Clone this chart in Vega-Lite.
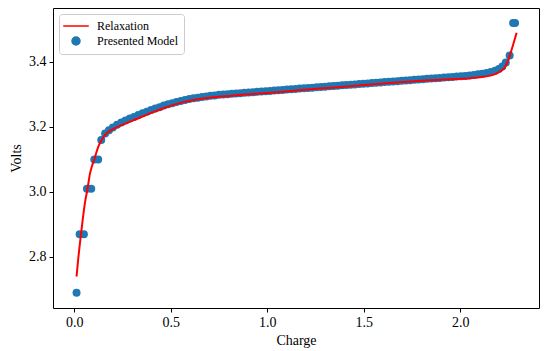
{
  "$schema": "https://vega.github.io/schema/vega-lite/v6.json",
  "width": 486,
  "height": 300,
  "autosize": "none",
  "padding": {"left": 53, "top": 8, "right": 11, "bottom": 43},
  "background": "white",
  "config": {
    "font": "Liberation Serif",
    "view": {"stroke": "black", "strokeWidth": 1},
    "axis": {
      "domain": false, "grid": false, "ticks": true, "tickColor": "black", "tickSize": 4, "tickWidth": 1,
      "labelFont": "Liberation Serif", "labelFontSize": 14, "labelColor": "black", "labelPadding": 3,
      "titleFont": "Liberation Serif", "titleFontSize": 14, "titleFontWeight": "normal", "titleColor": "black"
    },
    "legend": {
      "orient": "top-left", "offset": 6, "padding": 6, "strokeColor": "#cccccc", "fillColor": "rgba(255,255,255,0.8)",
      "cornerRadius": 3, "symbolSize": 64, "symbolOffset": 5, "labelOffset": 15, "rowPadding": 2,
      "labelFont": "Liberation Serif", "labelFontSize": 12, "labelColor": "black", "title": null
    }
  },
  "datasets": {
    "model": [
      {"charge": 0.012, "volts": 2.69, "series": "Presented Model"},
      {"charge": 0.028, "volts": 2.87, "series": "Presented Model"},
      {"charge": 0.050, "volts": 2.87, "series": "Presented Model"},
      {"charge": 0.066, "volts": 3.01, "series": "Presented Model"},
      {"charge": 0.088, "volts": 3.01, "series": "Presented Model"},
      {"charge": 0.104, "volts": 3.10, "series": "Presented Model"},
      {"charge": 0.124, "volts": 3.10, "series": "Presented Model"},
      {"charge": 0.140, "volts": 3.160, "series": "Presented Model"},
      {"charge": 0.160, "volts": 3.180, "series": "Presented Model"},
      {"charge": 0.180, "volts": 3.190, "series": "Presented Model"},
      {"charge": 0.200, "volts": 3.198, "series": "Presented Model"},
      {"charge": 0.222, "volts": 3.207, "series": "Presented Model"},
      {"charge": 0.244, "volts": 3.214, "series": "Presented Model"},
      {"charge": 0.266, "volts": 3.220, "series": "Presented Model"},
      {"charge": 0.288, "volts": 3.226, "series": "Presented Model"},
      {"charge": 0.310, "volts": 3.231, "series": "Presented Model"},
      {"charge": 0.332, "volts": 3.237, "series": "Presented Model"},
      {"charge": 0.354, "volts": 3.242, "series": "Presented Model"},
      {"charge": 0.376, "volts": 3.247, "series": "Presented Model"},
      {"charge": 0.398, "volts": 3.252, "series": "Presented Model"},
      {"charge": 0.420, "volts": 3.257, "series": "Presented Model"},
      {"charge": 0.442, "volts": 3.261, "series": "Presented Model"},
      {"charge": 0.464, "volts": 3.266, "series": "Presented Model"},
      {"charge": 0.486, "volts": 3.270, "series": "Presented Model"},
      {"charge": 0.508, "volts": 3.273, "series": "Presented Model"},
      {"charge": 0.530, "volts": 3.277, "series": "Presented Model"},
      {"charge": 0.552, "volts": 3.280, "series": "Presented Model"},
      {"charge": 0.574, "volts": 3.283, "series": "Presented Model"},
      {"charge": 0.596, "volts": 3.286, "series": "Presented Model"},
      {"charge": 0.618, "volts": 3.288, "series": "Presented Model"},
      {"charge": 0.640, "volts": 3.290, "series": "Presented Model"},
      {"charge": 0.662, "volts": 3.292, "series": "Presented Model"},
      {"charge": 0.684, "volts": 3.294, "series": "Presented Model"},
      {"charge": 0.706, "volts": 3.296, "series": "Presented Model"},
      {"charge": 0.728, "volts": 3.297, "series": "Presented Model"},
      {"charge": 0.750, "volts": 3.299, "series": "Presented Model"},
      {"charge": 0.772, "volts": 3.300, "series": "Presented Model"},
      {"charge": 0.794, "volts": 3.301, "series": "Presented Model"},
      {"charge": 0.816, "volts": 3.302, "series": "Presented Model"},
      {"charge": 0.838, "volts": 3.303, "series": "Presented Model"},
      {"charge": 0.860, "volts": 3.304, "series": "Presented Model"},
      {"charge": 0.882, "volts": 3.305, "series": "Presented Model"},
      {"charge": 0.904, "volts": 3.306, "series": "Presented Model"},
      {"charge": 0.926, "volts": 3.307, "series": "Presented Model"},
      {"charge": 0.948, "volts": 3.308, "series": "Presented Model"},
      {"charge": 0.970, "volts": 3.309, "series": "Presented Model"},
      {"charge": 0.992, "volts": 3.310, "series": "Presented Model"},
      {"charge": 1.014, "volts": 3.311, "series": "Presented Model"},
      {"charge": 1.036, "volts": 3.312, "series": "Presented Model"},
      {"charge": 1.058, "volts": 3.313, "series": "Presented Model"},
      {"charge": 1.080, "volts": 3.314, "series": "Presented Model"},
      {"charge": 1.102, "volts": 3.315, "series": "Presented Model"},
      {"charge": 1.124, "volts": 3.316, "series": "Presented Model"},
      {"charge": 1.146, "volts": 3.317, "series": "Presented Model"},
      {"charge": 1.168, "volts": 3.318, "series": "Presented Model"},
      {"charge": 1.190, "volts": 3.319, "series": "Presented Model"},
      {"charge": 1.212, "volts": 3.320, "series": "Presented Model"},
      {"charge": 1.234, "volts": 3.321, "series": "Presented Model"},
      {"charge": 1.256, "volts": 3.322, "series": "Presented Model"},
      {"charge": 1.278, "volts": 3.323, "series": "Presented Model"},
      {"charge": 1.300, "volts": 3.324, "series": "Presented Model"},
      {"charge": 1.322, "volts": 3.325, "series": "Presented Model"},
      {"charge": 1.344, "volts": 3.326, "series": "Presented Model"},
      {"charge": 1.366, "volts": 3.327, "series": "Presented Model"},
      {"charge": 1.388, "volts": 3.328, "series": "Presented Model"},
      {"charge": 1.410, "volts": 3.329, "series": "Presented Model"},
      {"charge": 1.432, "volts": 3.330, "series": "Presented Model"},
      {"charge": 1.454, "volts": 3.331, "series": "Presented Model"},
      {"charge": 1.476, "volts": 3.332, "series": "Presented Model"},
      {"charge": 1.498, "volts": 3.333, "series": "Presented Model"},
      {"charge": 1.520, "volts": 3.334, "series": "Presented Model"},
      {"charge": 1.542, "volts": 3.335, "series": "Presented Model"},
      {"charge": 1.564, "volts": 3.336, "series": "Presented Model"},
      {"charge": 1.586, "volts": 3.337, "series": "Presented Model"},
      {"charge": 1.608, "volts": 3.338, "series": "Presented Model"},
      {"charge": 1.630, "volts": 3.339, "series": "Presented Model"},
      {"charge": 1.652, "volts": 3.340, "series": "Presented Model"},
      {"charge": 1.674, "volts": 3.341, "series": "Presented Model"},
      {"charge": 1.696, "volts": 3.342, "series": "Presented Model"},
      {"charge": 1.718, "volts": 3.343, "series": "Presented Model"},
      {"charge": 1.740, "volts": 3.344, "series": "Presented Model"},
      {"charge": 1.762, "volts": 3.345, "series": "Presented Model"},
      {"charge": 1.784, "volts": 3.346, "series": "Presented Model"},
      {"charge": 1.806, "volts": 3.347, "series": "Presented Model"},
      {"charge": 1.828, "volts": 3.348, "series": "Presented Model"},
      {"charge": 1.850, "volts": 3.349, "series": "Presented Model"},
      {"charge": 1.872, "volts": 3.350, "series": "Presented Model"},
      {"charge": 1.894, "volts": 3.351, "series": "Presented Model"},
      {"charge": 1.916, "volts": 3.352, "series": "Presented Model"},
      {"charge": 1.938, "volts": 3.353, "series": "Presented Model"},
      {"charge": 1.960, "volts": 3.354, "series": "Presented Model"},
      {"charge": 1.982, "volts": 3.355, "series": "Presented Model"},
      {"charge": 2.004, "volts": 3.356, "series": "Presented Model"},
      {"charge": 2.026, "volts": 3.357, "series": "Presented Model"},
      {"charge": 2.048, "volts": 3.358, "series": "Presented Model"},
      {"charge": 2.070, "volts": 3.360, "series": "Presented Model"},
      {"charge": 2.092, "volts": 3.362, "series": "Presented Model"},
      {"charge": 2.114, "volts": 3.364, "series": "Presented Model"},
      {"charge": 2.136, "volts": 3.366, "series": "Presented Model"},
      {"charge": 2.158, "volts": 3.369, "series": "Presented Model"},
      {"charge": 2.180, "volts": 3.373, "series": "Presented Model"},
      {"charge": 2.200, "volts": 3.378, "series": "Presented Model"},
      {"charge": 2.218, "volts": 3.386, "series": "Presented Model"},
      {"charge": 2.236, "volts": 3.398, "series": "Presented Model"},
      {"charge": 2.256, "volts": 3.42, "series": "Presented Model"},
      {"charge": 2.274, "volts": 3.52, "series": "Presented Model"},
      {"charge": 2.284, "volts": 3.52, "series": "Presented Model"}
    ],
    "relax": [
      {"charge": 0.012, "volts": 2.74, "series": "Relaxation"},
      {"charge": 0.020, "volts": 2.79, "series": "Relaxation"},
      {"charge": 0.035, "volts": 2.87, "series": "Relaxation"},
      {"charge": 0.045, "volts": 2.92, "series": "Relaxation"},
      {"charge": 0.055, "volts": 2.965, "series": "Relaxation"},
      {"charge": 0.069, "volts": 3.01, "series": "Relaxation"},
      {"charge": 0.081, "volts": 3.055, "series": "Relaxation"},
      {"charge": 0.092, "volts": 3.08, "series": "Relaxation"},
      {"charge": 0.104, "volts": 3.10, "series": "Relaxation"},
      {"charge": 0.115, "volts": 3.122, "series": "Relaxation"},
      {"charge": 0.124, "volts": 3.138, "series": "Relaxation"},
      {"charge": 0.140, "volts": 3.158, "series": "Relaxation"},
      {"charge": 0.159, "volts": 3.175, "series": "Relaxation"},
      {"charge": 0.185, "volts": 3.188, "series": "Relaxation"},
      {"charge": 0.220, "volts": 3.199, "series": "Relaxation"},
      {"charge": 0.270, "volts": 3.212, "series": "Relaxation"},
      {"charge": 0.330, "volts": 3.226, "series": "Relaxation"},
      {"charge": 0.390, "volts": 3.241, "series": "Relaxation"},
      {"charge": 0.470, "volts": 3.259, "series": "Relaxation"},
      {"charge": 0.550, "volts": 3.274, "series": "Relaxation"},
      {"charge": 0.650, "volts": 3.286, "series": "Relaxation"},
      {"charge": 0.750, "volts": 3.293, "series": "Relaxation"},
      {"charge": 0.850, "volts": 3.298, "series": "Relaxation"},
      {"charge": 0.940, "volts": 3.302, "series": "Relaxation"},
      {"charge": 1.050, "volts": 3.307, "series": "Relaxation"},
      {"charge": 1.150, "volts": 3.312, "series": "Relaxation"},
      {"charge": 1.270, "volts": 3.318, "series": "Relaxation"},
      {"charge": 1.400, "volts": 3.324, "series": "Relaxation"},
      {"charge": 1.500, "volts": 3.329, "series": "Relaxation"},
      {"charge": 1.650, "volts": 3.336, "series": "Relaxation"},
      {"charge": 1.800, "volts": 3.342, "series": "Relaxation"},
      {"charge": 1.950, "volts": 3.347, "series": "Relaxation"},
      {"charge": 2.050, "volts": 3.35, "series": "Relaxation"},
      {"charge": 2.100, "volts": 3.353, "series": "Relaxation"},
      {"charge": 2.154, "volts": 3.358, "series": "Relaxation"},
      {"charge": 2.190, "volts": 3.365, "series": "Relaxation"},
      {"charge": 2.210, "volts": 3.372, "series": "Relaxation"},
      {"charge": 2.230, "volts": 3.382, "series": "Relaxation"},
      {"charge": 2.245, "volts": 3.40, "series": "Relaxation"},
      {"charge": 2.257, "volts": 3.42, "series": "Relaxation"},
      {"charge": 2.270, "volts": 3.445, "series": "Relaxation"},
      {"charge": 2.280, "volts": 3.465, "series": "Relaxation"},
      {"charge": 2.292, "volts": 3.49, "series": "Relaxation"}
    ]
  },
  "layer": [
    {
      "data": {"name": "model"},
      "mark": {"type": "point", "filled": true, "opacity": 1, "size": 64},
      "encoding": {
        "x": {"field": "charge", "type": "quantitative",
              "scale": {"domain": [-0.11, 2.408], "nice": false, "zero": false},
              "axis": {"title": "Charge", "values": [0, 0.5, 1, 1.5, 2], "format": ".1f", "titlePadding": 4}},
        "y": {"field": "volts", "type": "quantitative",
              "scale": {"domain": [2.643, 3.566], "nice": false, "zero": false},
              "axis": {"title": "Volts", "values": [2.8, 3.0, 3.2, 3.4], "format": ".1f", "titlePadding": 5}},
        "color": {"field": "series", "type": "nominal",
                  "scale": {"domain": ["Relaxation", "Presented Model"], "range": ["#ff0000", "#1f77b4"]},
                  "legend": {"encode": {"symbols": {"update": {"stroke": {"scale": "color", "field": "value"}, "strokeWidth": {"signal": "datum.value === 'Relaxation' ? 2 : 0"}}}}}},
        "shape": {"field": "series", "type": "nominal",
                  "scale": {"domain": ["Relaxation", "Presented Model"], "range": ["M-3.2,0H3.2", "circle"]}}
      }
    },
    {
      "data": {"name": "relax"},
      "mark": {"type": "line", "strokeWidth": 2, "interpolate": "monotone"},
      "encoding": {
        "x": {"field": "charge", "type": "quantitative"},
        "y": {"field": "volts", "type": "quantitative"},
        "color": {"field": "series", "type": "nominal"}
      }
    }
  ]
}
